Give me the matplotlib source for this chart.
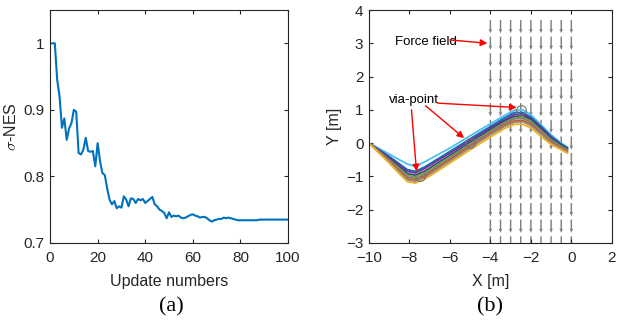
import numpy as np
import matplotlib
matplotlib.use("Agg")
import matplotlib.pyplot as plt

plt.rcParams['font.family'] = ['Liberation Sans', 'DejaVu Sans']
plt.rcParams['mathtext.fontset'] = 'cm'

# -- (a) sigma-NES convergence
updates = np.arange(1, 101)
sigma_nes = [1.000, 1.000, 0.945, 0.920, 0.873, 0.887, 0.855, 0.872, 0.880, 0.900,
             0.897, 0.835, 0.833, 0.840, 0.858, 0.838, 0.837, 0.838, 0.815, 0.850,
             0.823, 0.805, 0.802, 0.782, 0.765, 0.758, 0.763, 0.752, 0.755, 0.753,
             0.770, 0.765, 0.755, 0.767, 0.766, 0.760, 0.766, 0.764, 0.766, 0.760,
             0.763, 0.766, 0.769, 0.758, 0.755, 0.750, 0.748, 0.745, 0.737, 0.746,
             0.739, 0.741, 0.740, 0.741, 0.738, 0.737, 0.738, 0.740, 0.742, 0.743,
             0.741, 0.740, 0.738, 0.739, 0.739, 0.737, 0.734, 0.732, 0.734, 0.735,
             0.736, 0.736, 0.738, 0.737, 0.738, 0.737, 0.736, 0.735, 0.734, 0.734,
             0.734, 0.734, 0.734, 0.734, 0.734, 0.734, 0.734, 0.735, 0.735, 0.735,
             0.735, 0.735, 0.735, 0.735, 0.735, 0.735, 0.735, 0.735, 0.735, 0.735]

# -- (b) trajectories
traj_x = [-10, -9, -8.5, -8.1, -7.7, -7.2, -6, -5, -4, -3.3, -2.8, -2.4, -2.0, -1.5, -1.0, -0.5, -0.2]
trajs = [
    [0, -0.33, -0.50, -0.63, -0.70, -0.55, -0.15, 0.22, 0.58, 0.83, 0.99, 1.00, 0.85, 0.55, 0.25, 0.00, -0.12],
    [0, -0.40, -0.62, -0.80, -0.85, -0.70, -0.25, 0.13, 0.50, 0.76, 0.92, 0.92, 0.78, 0.50, 0.20, -0.03, -0.14],
    [0, -0.43, -0.66, -0.85, -0.90, -0.75, -0.30, 0.08, 0.45, 0.70, 0.86, 0.87, 0.74, 0.46, 0.17, -0.06, -0.16],
    [0, -0.47, -0.72, -0.92, -0.97, -0.83, -0.37, 0.02, 0.40, 0.66, 0.80, 0.82, 0.70, 0.42, 0.13, -0.08, -0.18],
    [0, -0.50, -0.76, -0.97, -1.02, -0.88, -0.42, -0.02, 0.36, 0.62, 0.76, 0.78, 0.66, 0.38, 0.10, -0.10, -0.20],
    [0, -0.52, -0.80, -1.02, -1.07, -0.93, -0.46, -0.05, 0.33, 0.59, 0.73, 0.74, 0.62, 0.35, 0.07, -0.12, -0.22],
    [0, -0.55, -0.84, -1.07, -1.12, -0.98, -0.50, -0.10, 0.28, 0.54, 0.67, 0.68, 0.57, 0.30, 0.03, -0.15, -0.25],
    [0, -0.57, -0.87, -1.10, -1.15, -1.02, -0.54, -0.14, 0.25, 0.50, 0.63, 0.64, 0.53, 0.27, 0.00, -0.17, -0.27],
    [0, -0.60, -0.92, -1.16, -1.20, -1.07, -0.60, -0.20, 0.18, 0.44, 0.57, 0.56, 0.46, 0.20, -0.04, -0.20, -0.30],
]
traj_colors = [(0.30, 0.75, 0.93), (0.0, 0.45, 0.74), (0.49, 0.18, 0.56), (0.15, 0.25, 0.55),
               (0.47, 0.67, 0.19), (0.5, 0.5, 0.5), (0.85, 0.33, 0.10), (0.55, 0.55, 0.55),
               (0.93, 0.69, 0.13)]
via_x = [-7.5, -5.0, -2.5]
via_y = [-1.0, 0.0, 1.0]

field_x = np.arange(-4, 0.01, 0.5)
field_y = np.arange(-3, 3.51, 0.5)

fig = plt.figure(figsize=(6.18, 3.23), dpi=100)
ax1 = fig.add_axes([0.081, 0.248, 0.385, 0.721])
ax2 = fig.add_axes([0.597, 0.248, 0.393, 0.721])

axcol = (0.15, 0.15, 0.15)
for ax in (ax1, ax2):
    ax.tick_params(direction='in', length=3, top=True, right=True, labelsize=11,
                   colors=axcol)
    ax.tick_params(axis='x', pad=6)
    ax.tick_params(axis='y', pad=4)
    for s in ax.spines.values():
        s.set_color(axcol)
        s.set_linewidth(0.8)

ax1.plot(updates, sigma_nes, color=(0.0, 0.447, 0.741), lw=1.5)
ax1.set_xlim(0, 100)
ax1.set_ylim(0.7, 1.05)
ax1.set_xticks([0, 20, 40, 60, 80, 100])
ax1.set_yticks([0.7, 0.8, 0.9, 1.0])
ax1.set_yticklabels(['0.7', '0.8', '0.9', '1'])
ax1.set_xlabel('Update numbers', fontsize=11.5, color=axcol, labelpad=6)
ax1.set_ylabel(r'$\sigma$-NES', fontsize=11.5, color=axcol, labelpad=3)

# force field
FX, FY = np.meshgrid(field_x, field_y)
ax2.quiver(FX, FY + 0.2, np.zeros_like(FX), -0.4 * np.ones_like(FY),
           angles='xy', scale_units='xy', scale=1, color=(0.5, 0.5, 0.5),
           width=0.006, headwidth=2.5, headlength=3, headaxislength=2.7)

for ys, c in zip(trajs, traj_colors):
    ax2.plot(traj_x, ys, color=c, lw=1.3)
ax2.plot(via_x, via_y, 'o', mfc='none', mec=(0.45, 0.45, 0.45), ms=7, mew=0.8)

ax2.set_xlim(-10, 2)
ax2.set_ylim(-3, 4)
ax2.set_xticks(np.arange(-10, 3, 2))
ax2.set_yticks(np.arange(-3, 5, 1))
ax2.set_xlabel('X [m]', fontsize=11.5, color=axcol, labelpad=6)
ax2.set_ylabel('Y [m]', fontsize=11.5, color=axcol, labelpad=3)

arrow = dict(arrowstyle='-|>', color='red', lw=1.0, mutation_scale=10, shrinkA=0, shrinkB=0)
ax2.text(-8.7, 3.05, 'Force field', fontsize=9.5, va='center', ha='left')
ax2.annotate('', xy=(-4.15, 3.0), xytext=(-6.0, 3.1), arrowprops=arrow)
ax2.text(-9.0, 1.3, 'via-point', fontsize=9.5, va='center', ha='left')
ax2.annotate('', xy=(-2.7, 1.07), xytext=(-6.6, 1.2), arrowprops=arrow)
ax2.annotate('', xy=(-5.3, 0.15), xytext=(-7.2, 1.12), arrowprops=arrow)
ax2.annotate('', xy=(-7.65, -0.85), xytext=(-7.9, 1.0), arrowprops=arrow)

fig.text(0.278, 0.05, '(a)', fontsize=16, family='Liberation Serif', ha='center', va='center')
fig.text(0.793, 0.05, '(b)', fontsize=16, family='Liberation Serif', ha='center', va='center')

fig.savefig('out.png', dpi=100)
